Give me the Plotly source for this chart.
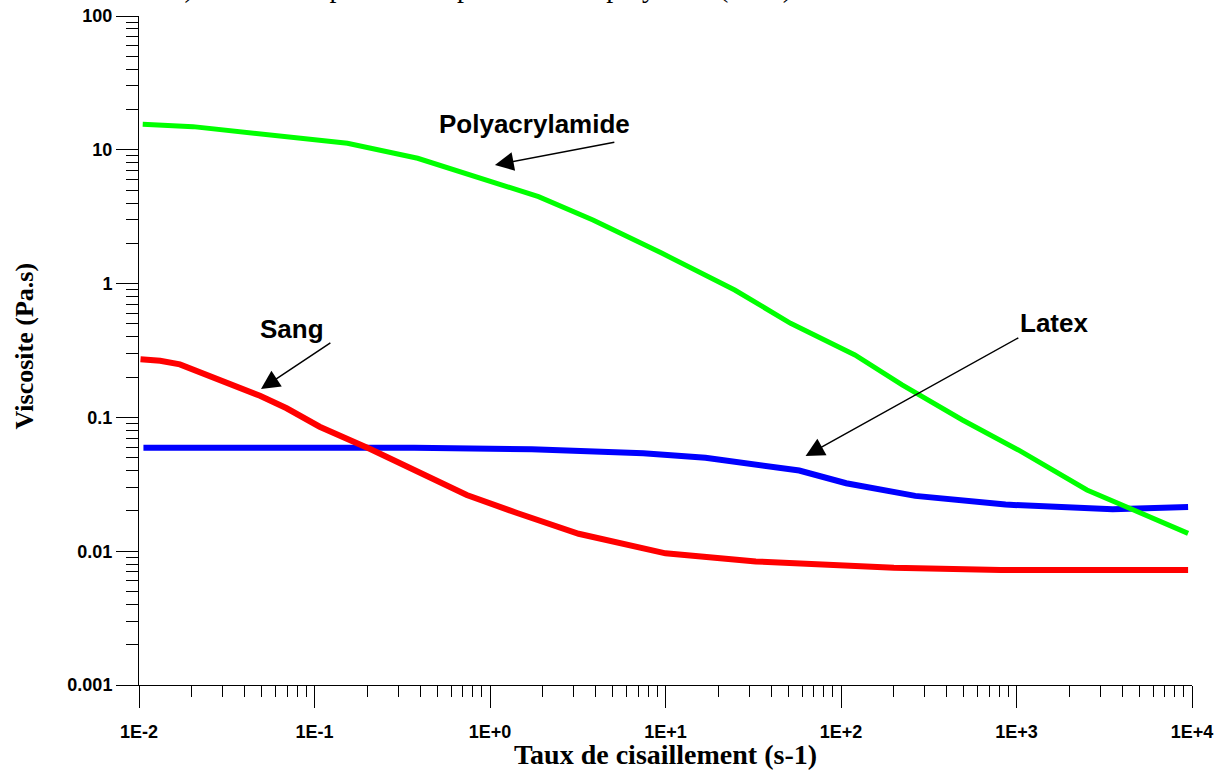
import plotly.graph_objects as go

# Shear rate (s-1) and viscosity (Pa.s) for each fluid
shear_poly = [0.0105, 0.0203, 0.154, 0.387, 1.89, 3.86, 9.5, 24.8, 51.6, 120, 223, 492, 1024, 2520, 9500]
visc_poly = [15.5, 14.9, 11.2, 8.64, 4.47, 2.99, 1.69, 0.896, 0.505, 0.293, 0.175, 0.0956, 0.0571, 0.0287, 0.0136]

shear_latex = [0.0106, 0.37, 1.73, 7.47, 16.9, 57.8, 107, 265, 866, 3530, 9500]
visc_latex = [0.0594, 0.0594, 0.0578, 0.054, 0.050, 0.0401, 0.0322, 0.0259, 0.0223, 0.0206, 0.0214]

shear_sang = [0.0102, 0.0132, 0.0171, 0.0223, 0.033, 0.0489, 0.0694, 0.107, 0.209, 0.737, 1.44, 3.2,
              10.0, 32.7, 200, 813, 9500]
visc_sang = [0.272, 0.265, 0.249, 0.216, 0.180, 0.145, 0.117, 0.0852, 0.0578, 0.0263, 0.0192, 0.0135,
             0.00964, 0.00838, 0.00753, 0.00724, 0.00724]

x_tick_vals = [1e-2, 1e-1, 1, 10, 100, 1000, 10000]
x_tick_text = ["1E-2", "1E-1", "1E+0", "1E+1", "1E+2", "1E+3", "1E+4"]
y_tick_vals = [0.001, 0.01, 0.1, 1, 10, 100]
y_tick_text = ["0.001", "0.01", "0.1", "1", "10", "100"]

# minor ticks at 2..9 within every decade
x_minor = [k * 10.0 ** d for d in range(-2, 4) for k in range(2, 10)]
y_minor = [k * 10.0 ** d for d in range(-3, 2) for k in range(2, 10)]

fig = go.Figure()
fig.add_trace(go.Scatter(x=shear_latex, y=visc_latex, mode="lines",
                         line=dict(color="#0000FF", width=6), name="Latex"))
fig.add_trace(go.Scatter(x=shear_sang, y=visc_sang, mode="lines",
                         line=dict(color="#FF0000", width=6), name="Sang"))
fig.add_trace(go.Scatter(x=shear_poly, y=visc_poly, mode="lines",
                         line=dict(color="#00FF00", width=5), name="Polyacrylamide"))

tick_font = dict(family="Liberation Sans", size=18, color="black", weight="bold")

fig.update_xaxes(
    type="log", range=[-2, 4], showgrid=False, zeroline=False, automargin=False,
    showline=True, linecolor="black", linewidth=1,
    ticks="outside", ticklen=22, tickwidth=1, tickcolor="black",
    tickmode="array", tickvals=x_tick_vals, ticktext=x_tick_text,
    tickfont=tick_font, ticklabelstandoff=8,
    minor=dict(tickmode="array", tickvals=x_minor, ticks="outside", ticklen=11,
               tickwidth=1, tickcolor="black", showgrid=False),
)
fig.update_yaxes(
    type="log", range=[-3, 2], showgrid=False, zeroline=False, automargin=False,
    showline=True, linecolor="black", linewidth=1,
    ticks="outside", ticklen=22, tickwidth=1, tickcolor="black",
    tickmode="array", tickvals=y_tick_vals, ticktext=y_tick_text,
    tickfont=tick_font,
    minor=dict(tickmode="array", tickvals=y_minor, ticks="outside", ticklen=12,
               tickwidth=1, tickcolor="black", showgrid=False),
)

label_font = dict(family="Liberation Sans", size=26, color="black", weight="bold")
title_font = dict(family="Liberation Serif", size=28, color="black", weight="bold")
arrow_style = dict(text="", showarrow=True, arrowhead=2, arrowsize=2.5, arrowwidth=1.5,
                   arrowcolor="black", xref="x", yref="y", axref="x", ayref="y")

annotations = [
    # curve labels (positions in log10 axis units)
    dict(x=0.256, y=1.195, xref="x", yref="y", text="Polyacrylamide", showarrow=False,
         font=label_font, xanchor="center", yanchor="middle"),
    dict(x=-1.128, y=-0.343, xref="x", yref="y", text="Sang", showarrow=False,
         font=label_font, xanchor="center", yanchor="middle"),
    dict(x=3.215, y=-0.297, xref="x", yref="y", text="Latex", showarrow=False,
         font=label_font, xanchor="center", yanchor="middle"),
    # pointer arrows
    dict(x=0.028, y=0.886, ax=0.717, ay=1.058, **arrow_style),
    dict(x=-1.305, y=-0.788, ax=-0.901, ay=-0.436, **arrow_style),
    dict(x=1.798, y=-1.289, ax=3.019, ay=-0.399, **arrow_style),
    # axis titles
    dict(x=0.5, y=-0.1045, xref="paper", yref="paper", text="Taux de cisaillement (s-1)",
         showarrow=False, font=title_font, xanchor="center", yanchor="middle"),
    dict(x=-0.1092, y=0.506, xref="paper", yref="paper", text="Viscosite (Pa.s)",
         showarrow=False, font=dict(family="Liberation Serif", size=26, color="black", weight="bold"),
         textangle=-90, xanchor="center", yanchor="middle"),
    # caption line running above the frame
    dict(x=0.0294, y=1.0425, xref="paper", yref="paper", text="c)",
         showarrow=False, font=dict(family="Liberation Serif", size=28, color="black"),
         xanchor="left", yanchor="middle"),
    dict(x=0.094, y=1.0425, xref="paper", yref="paper",
         text="Une suspension de particules de polymère (latex) dans l'eau.",
         showarrow=False, font=dict(family="Liberation Serif", size=28, color="black"),
         xanchor="left", yanchor="middle"),
]

fig.update_layout(
    width=1224, height=773,
    margin=dict(l=139, r=32, t=16, b=88),
    paper_bgcolor="white", plot_bgcolor="white",
    showlegend=False,
    annotations=annotations,
)

fig.write_html("out.html")
